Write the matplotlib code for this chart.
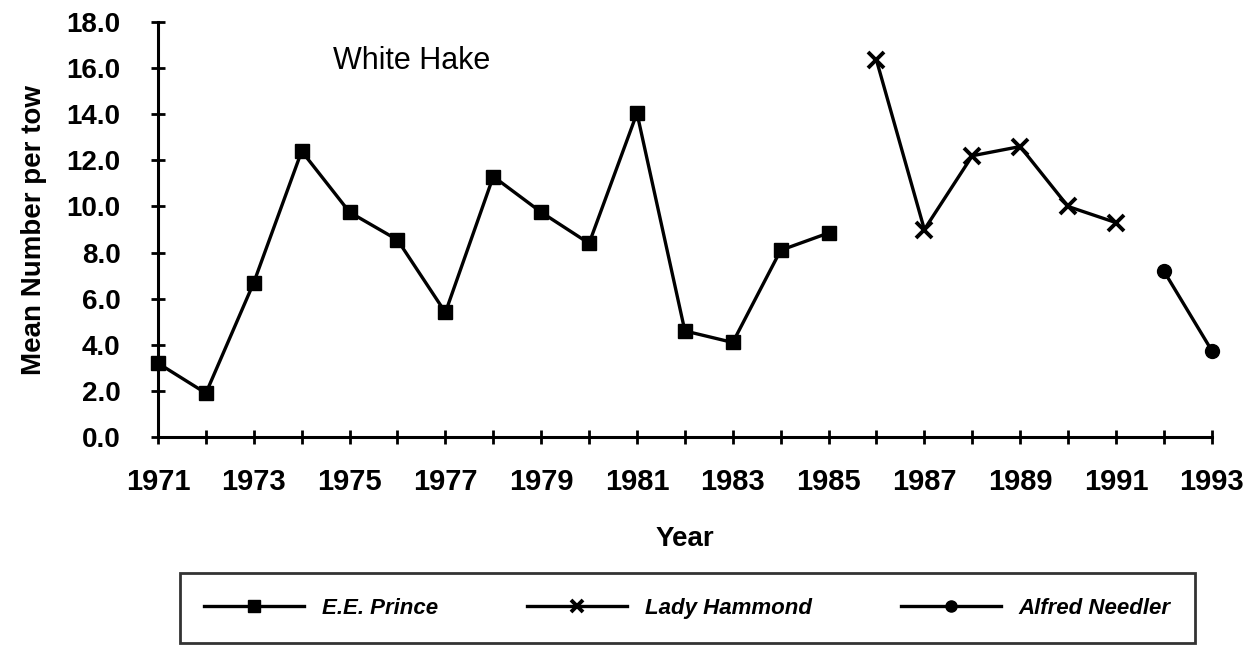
import numpy as np
import matplotlib.pyplot as plt

plt.rcParams['font.family'] = ['Liberation Sans', 'DejaVu Sans']

years_prince = [1971, 1972, 1973, 1974, 1975, 1976, 1977, 1978, 1979, 1980,
                1981, 1982, 1983, 1984, 1985]
prince = [3.2, 1.9, 6.7, 12.4, 9.75, 8.55, 5.4, 11.3, 9.75, 8.4,
          14.05, 4.6, 4.1, 8.1, 8.85]

years_hammond = [1986, 1987, 1988, 1989, 1990, 1991]
hammond = [16.35, 9.0, 12.2, 12.6, 10.0, 9.3]

years_needler = [1992, 1993]
needler = [7.2, 3.75]

xticks = list(range(1971, 1994, 2))
yticks = np.arange(0, 18.1, 2.0)

fig = plt.figure(figsize=(12.57, 6.49), dpi=100)
ax = fig.add_axes([0.1257, 0.3267, 0.8383, 0.6393])

ax.plot(years_prince, prince, color='black', lw=2.4, marker='s', ms=10,
        clip_on=False, label='E.E. Prince')
ax.plot(years_hammond, hammond, color='black', lw=2.4, marker='x', ms=11,
        mew=2.8, clip_on=False, label='Lady Hammond')
ax.plot(years_needler, needler, color='black', lw=2.4, marker='o', ms=10,
        clip_on=False, label='Alfred Needler')

ax.set_xlim(1971, 1993)
ax.set_ylim(0, 18)
ax.set_xticks(xticks)
ax.set_xticks(range(1971, 1994), minor=True)
ax.set_yticks(yticks)
ax.set_yticklabels([f"{v:.1f}" for v in yticks])
ax.tick_params(axis='both', which='both', direction='inout', width=2,
               length=10)
ax.tick_params(axis='x', which='major', labelsize=21, pad=17)
ax.tick_params(axis='y', which='major', labelsize=20, pad=22)
for lbl in ax.get_xticklabels() + ax.get_yticklabels():
    lbl.set_fontweight('bold')

for side in ['top', 'right']:
    ax.spines[side].set_visible(False)
for side in ['left', 'bottom']:
    ax.spines[side].set_linewidth(2.2)

ax.set_xlabel('Year', fontsize=20, fontweight='bold', labelpad=22)
ax.set_ylabel('Mean Number per tow', fontsize=20, fontweight='bold', labelpad=14)

ax.text(1974.65, 16.3, 'White Hake', fontsize=22, va='center', ha='left')

handles, labels = ax.get_legend_handles_labels()
leg = fig.legend(handles, labels, loc='center', ncol=3,
                 bbox_to_anchor=(0.547, 0.0625), fancybox=False, edgecolor='black',
                 prop={'style': 'italic', 'weight': 'bold', 'size': 16},
                 handlelength=4.5, handletextpad=0.8, columnspacing=4.0,
                 borderpad=1.1, borderaxespad=0, markerscale=0.8)
leg.get_frame().set_linewidth(2)

fig.savefig('out.png', dpi=100)
